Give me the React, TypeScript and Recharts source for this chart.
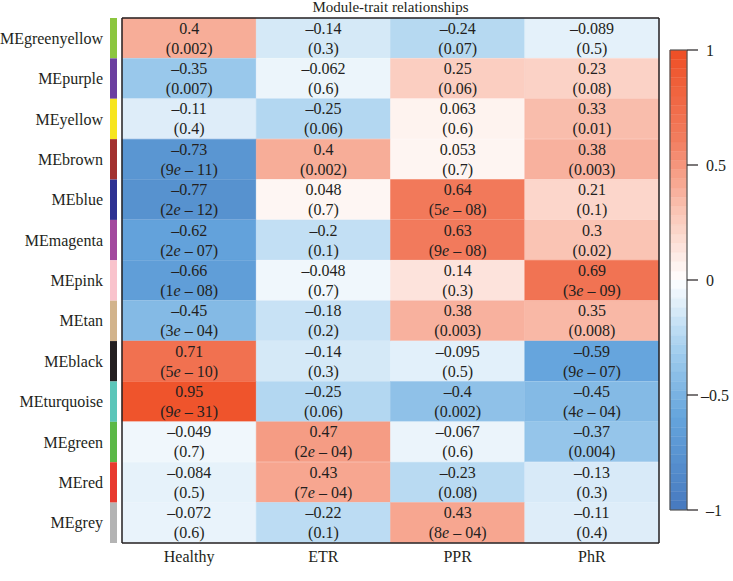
import React from 'react';
import { BarChart, Bar, XAxis, YAxis, Cell, LabelList } from 'recharts';

// Module eigengenes (rows, top to bottom) and their WGCNA colour strips
const MODULES = [
  'MEgreenyellow', 'MEpurple', 'MEyellow', 'MEbrown', 'MEblue', 'MEmagenta', 'MEpink',
  'MEtan', 'MEblack', 'MEturquoise', 'MEgreen', 'MEred', 'MEgrey',
];
const MODULE_COLORS = [
  '#8cc63f', '#6b3fa0', '#f7e51e', '#a2312f', '#2e3192', '#a2499e', '#f9c3cc',
  '#d2b48c', '#231f20', '#5cc6b9', '#5cb847', '#e83a2f', '#b4b4b4',
];

const TRAITS = ['Healthy', 'ETR', 'PPR', 'PhR'];

// correlation per trait, one value per module
const COR_HEALTHY = [0.4, -0.35, -0.11, -0.73, -0.77, -0.62, -0.66, -0.45, 0.71, 0.95, -0.049, -0.084, -0.072];
const COR_ETR = [-0.14, -0.062, -0.25, 0.4, 0.048, -0.2, -0.048, -0.18, -0.14, -0.25, 0.47, 0.43, -0.22];
const COR_PPR = [-0.24, 0.25, 0.063, 0.053, 0.64, 0.63, 0.14, 0.38, -0.095, -0.4, -0.067, -0.23, 0.43];
const COR_PHR = [-0.089, 0.23, 0.33, 0.38, 0.21, 0.3, 0.69, 0.35, -0.59, -0.45, -0.37, -0.13, -0.11];

// p-values, as printed
const P_HEALTHY = ['0.002', '0.007', '0.4', '9e-11', '2e-12', '2e-07', '1e-08', '3e-04', '5e-10', '9e-31', '0.7', '0.5', '0.6'];
const P_ETR = ['0.3', '0.6', '0.06', '0.002', '0.7', '0.1', '0.7', '0.2', '0.3', '0.06', '2e-04', '7e-04', '0.1'];
const P_PPR = ['0.07', '0.06', '0.6', '0.7', '5e-08', '9e-08', '0.3', '0.003', '0.5', '0.002', '0.6', '0.08', '8e-04'];
const P_PHR = ['0.5', '0.08', '0.01', '0.003', '0.1', '0.02', '3e-09', '0.008', '9e-07', '4e-04', '0.004', '0.3', '0.4'];

const COLORBAR_TICKS = [-1, -0.5, 0, 0.5, 1];
const COLORBAR_STEPS = 25; // per side

const COR = [COR_HEALTHY, COR_ETR, COR_PPR, COR_PHR];
const PVAL = [P_HEALTHY, P_ETR, P_PPR, P_PHR];

const FONT = "'Liberation Serif', 'DejaVu Serif', serif";
const TEXT = '#231f20';
const FONT_STYLE = { fontFamily: FONT };
const FRAME = { stroke: '#231f20', strokeWidth: 1.5 };
const BAR_EDGE = { stroke: '#555', strokeWidth: 1.2 };

// blue - white - red ramp, anchors picked off the legend bar
const RAMP: [number, number[]][] = [
  [-1, [70, 121, 190]],
  [-0.6, [100, 164, 220]],
  [-0.3, [164, 207, 238]],
  [0, [255, 255, 255]],
  [0.3, [250, 196, 180]],
  [0.6, [242, 126, 96]],
  [1, [238, 78, 36]],
];

function corColor(v: number): string {
  for (let i = 0; i < RAMP.length - 1; i++) {
    const [a, ca] = RAMP[i];
    const [b, cb] = RAMP[i + 1];
    if (v >= a && v <= b) {
      const t = (v - a) / (b - a);
      const c = ca.map((x, k) => Math.round(x + (cb[k] - x) * t));
      return `rgb(${c[0]},${c[1]},${c[2]})`;
    }
  }
  return v < 0 ? 'rgb(70,121,190)' : 'rgb(238,78,36)';
}

const fmtNum = (v: number) => (v < 0 ? `–${String(-v)}` : String(v));

// each trait occupies one unit along x, stacked side by side
const rows = MODULES.map(m => {
  const r: Record<string, string | number> = { module: m };
  TRAITS.forEach(t => (r[t] = 1));
  return r;
});

// legend bar: equal steps out from 0 in both directions
const BAND = 1 / COLORBAR_STEPS;
const bandKeys: { key: string; mid: number }[] = [];
const bandRow: Record<string, string | number> = { name: 'scale' };
for (let k = 0; k < COLORBAR_STEPS; k++) {
  bandKeys.push({ key: `p${k}`, mid: (k + 0.5) * BAND });
  bandRow[`p${k}`] = BAND;
  bandKeys.push({ key: `n${k}`, mid: -(k + 0.5) * BAND });
  bandRow[`n${k}`] = -BAND;
}

const CHART_W = 733;
const CHART_H = 581;
const MARGIN = { top: 18, right: 74, bottom: 0, left: 0 };
// frame overlay carries 1px top/right axes, so shave 1px off those margins
const FRAME_MARGIN = { top: 17, right: 73, bottom: 0, left: 0 };
const X_AXIS_H = 38;
const Y_AXIS_W = 122;
const ROW_H = (CHART_H - MARGIN.top - MARGIN.bottom - X_AXIS_H) / MODULES.length;

const CB_LEFT = 660;
const CB_W = CHART_W - CB_LEFT;

function ModuleTick(props: any) {
  const { x, y, payload, index } = props;
  return (
    <g>
      <text x={x - 19} y={y} dy="0.35em" textAnchor="end" fontSize={16} style={FONT_STYLE} fill={TEXT}>
        {payload.value}
      </text>
      <rect x={x - 12} y={y - ROW_H / 2} width={7} height={ROW_H} fill={MODULE_COLORS[index]} />
    </g>
  );
}

// long labels are pulled back inside the page edge, over the end of their tick
function ScaleTick(props: any) {
  const { x, y, payload } = props;
  const label = fmtNum(payload.value);
  const tooWide = label.length > 3;
  return (
    <g>
      {tooWide && <rect x={x + 6} y={y - 8} width={CB_W - (x + 6)} height={16} fill="#fff" />}
      <text
        x={tooWide ? CB_W - 4 : x + 8}
        y={y}
        dy="0.35em"
        textAnchor={tooWide ? 'end' : 'start'}
        fontSize={16}
        style={FONT_STYLE}
        fill={TEXT}
      >
        {label}
      </text>
    </g>
  );
}

function PValue({ p }: { p: string }) {
  const m = p.match(/^(\d+)e-(\d+)$/);
  if (!m) return <>({p})</>;
  return (
    <>
      ({m[1]}
      <tspan fontStyle="italic">e</tspan> – {m[2]})
    </>
  );
}

function cellLabel(col: number) {
  return (props: any) => {
    const { x, y, width, height, index } = props;
    const cx = x + width / 2;
    return (
      <g fontSize={16} fill={TEXT} textAnchor="middle">
        <text x={cx} y={y + height * 0.25} dy="0.35em" style={FONT_STYLE}>{fmtNum(COR[col][index])}</text>
        <text x={cx} y={y + height * 0.75} dy="0.35em" style={FONT_STYLE}><PValue p={PVAL[col][index]} /></text>
      </g>
    );
  };
}

function ColorBar() {
  return (
    <BarChart
      width={CB_W}
      height={CHART_H}
      data={[bandRow]}
      stackOffset="sign"
      barCategoryGap={0}
      margin={{ top: 49, right: 0, bottom: 70, left: 9 }}
    >
      <XAxis dataKey="name" height={1} tick={false} tickLine={false} axisLine={BAR_EDGE} />
      <XAxis xAxisId="top" orientation="top" dataKey="name" height={1} tick={false} tickLine={false} axisLine={BAR_EDGE} />
      <YAxis
        type="number"
        orientation="right"
        domain={[-1, 1]}
        ticks={COLORBAR_TICKS}
        width={46}
        axisLine={BAR_EDGE}
        tickSize={11}
        tickMargin={0}
        tickLine={{ stroke: TEXT, strokeWidth: 1.2 }}
        tick={<ScaleTick />}
        interval={0}
        allowDataOverflow
      />
      <YAxis yAxisId="left" type="number" orientation="left" domain={[-1, 1]} width={1} tick={false} tickLine={false} axisLine={BAR_EDGE} />
      {bandKeys.map(b => (
        <Bar
          key={b.key}
          dataKey={b.key}
          stackId="scale"
          fill={corColor(b.mid)}
          stroke={corColor(b.mid)}
          strokeWidth={0.4}
          isAnimationActive={false}
        />
      ))}
    </BarChart>
  );
}

export default function App() {
  return (
    <div
      style={{
        position: 'absolute',
        left: 0,
        top: 0,
        width: CHART_W,
        height: CHART_H,
        background: '#fff',
        fontFamily: FONT,
      }}
    >
      <div
        style={{
          position: 'absolute',
          left: Y_AXIS_W,
          top: 0,
          width: 537,
          textAlign: 'center',
          fontSize: 15,
          lineHeight: '15px',
          color: TEXT,
        }}
      >
        Module-trait relationships
      </div>
      <div style={{ position: 'absolute', left: 0, top: 0 }}>
        <BarChart
          width={CHART_W}
          height={CHART_H}
          data={rows}
          layout="vertical"
          margin={MARGIN}
          barCategoryGap={0}
        >
          <XAxis
            type="number"
            domain={[0, TRAITS.length]}
            ticks={TRAITS.map((_, i) => i + 0.5)}
            tickFormatter={(v: number) => TRAITS[Math.floor(v)]}
            height={X_AXIS_H}
            axisLine={false}
            tickLine={false}
            tickSize={0}
            tickMargin={8}
            interval={0}
            tick={{ fontSize: 16, fill: TEXT, style: FONT_STYLE }}
          />
          <YAxis
            type="category"
            dataKey="module"
            width={Y_AXIS_W}
            axisLine={false}
            tickLine={false}
            tickSize={0}
            tickMargin={0}
            interval={0}
            tick={<ModuleTick />}
          />
          {TRAITS.map((t, col) => (
            <Bar key={t} dataKey={t} stackId="cells" isAnimationActive={false}>
              {rows.map((_, i) => (
                <Cell key={i} fill={corColor(COR[col][i])} stroke={corColor(COR[col][i])} strokeWidth={0.5} />
              ))}
              <LabelList dataKey={t} content={cellLabel(col)} />
            </Bar>
          ))}
        </BarChart>
      </div>
      {/* frame drawn on top of the cells */}
      <div style={{ position: 'absolute', left: 0, top: 0, pointerEvents: 'none' }}>
        <BarChart width={CHART_W} height={CHART_H} data={rows} layout="vertical" margin={FRAME_MARGIN}>
          <XAxis type="number" domain={[0, TRAITS.length]} height={X_AXIS_H} tick={false} tickLine={false} axisLine={FRAME} />
          <XAxis xAxisId="top" orientation="top" type="number" domain={[0, TRAITS.length]} height={1} tick={false} tickLine={false} axisLine={FRAME} />
          <YAxis type="category" dataKey="module" width={Y_AXIS_W} tick={false} tickLine={false} axisLine={FRAME} />
          <YAxis yAxisId="right" orientation="right" type="category" dataKey="module" width={1} tick={false} tickLine={false} axisLine={FRAME} />
        </BarChart>
      </div>
      <div style={{ position: 'absolute', left: CB_LEFT, top: 0 }}>
        <ColorBar />
      </div>
    </div>
  );
}
